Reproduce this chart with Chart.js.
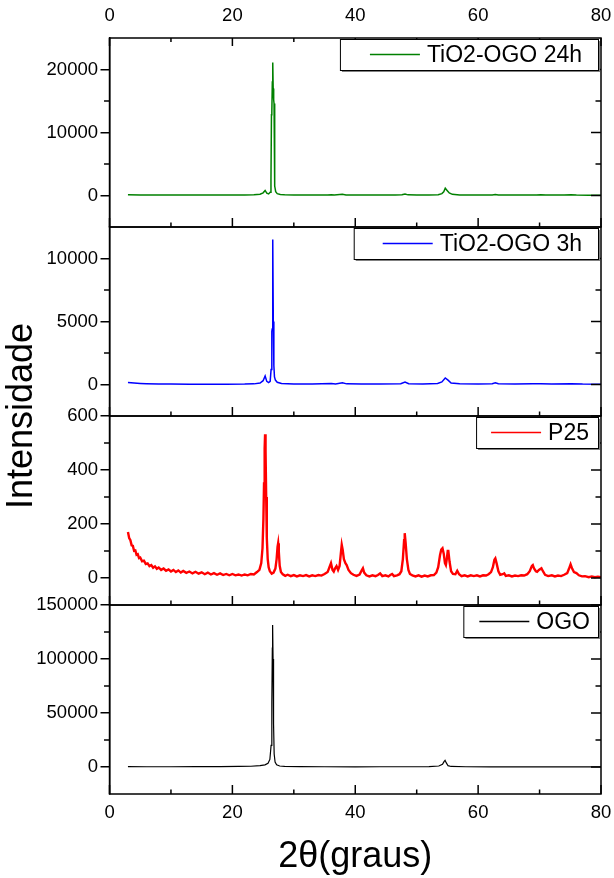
<!DOCTYPE html>
<html>
<head>
<meta charset="utf-8">
<script src="https://cdn.jsdelivr.net/npm/chart.js@4.4.0/dist/chart.umd.min.js"></script>
<style>
  html, body { margin: 0; padding: 0; background: #fff; }
  canvas { display: block; }
</style>
</head>
<body>
<canvas id="xrd" width="614" height="878"></canvas>
<script>
// tick labels of each panel
const greenTicks = [0, 10000, 20000];
const blueTicks = [0, 5000, 10000];
const redTicks = [0, 200, 400, 600];
const ogoTicks = [0, 50000, 100000, 150000];

// TiO2-OGO 24h
const greenX = [3, 5, 8, 11, 14, 17, 20, 22, 23.5, 24.5,
  25.0, 25.33, 25.6, 25.9, 26.15, 26.28, 26.36, 26.42, 26.5, 26.57,
  26.64, 26.72, 26.78, 26.85, 26.92, 27.05, 27.3, 27.8, 28.5, 30,
  33, 35.5, 36.1, 36.6, 37.9, 38.5, 41, 44, 46.5, 47.6,
  48.1, 48.6, 50, 52, 53.5, 54.1, 54.4, 54.65, 54.95, 55.3,
  55.8, 57, 60, 62.3, 62.8, 63.3, 65, 68, 69.5, 70.2,
  71, 74, 75.1, 76, 78, 80];
const greenY = [120, 90, 70, 60, 60, 60, 70, 80, 110, 200,
  420, 800, 380, 250, 500, 2500, 12800, 13200, 18000, 21100,
  17000, 15200, 14600, 6000, 1500, 600, 300, 150, 100, 70,
  60, 70, 130, 70, 180, 90, 60, 60, 70, 110,
  220, 100, 60, 70, 120, 300, 600, 1150, 800, 400,
  180, 90, 70, 80, 160, 90, 60, 60, 80, 130,
  70, 60, 110, 60, 50, 40];

// TiO2-OGO 3h
const blueX = [3, 4, 5, 6, 8, 10, 13, 16, 19, 22,
  23.5, 24.5, 25.0, 25.33, 25.6, 25.9, 26.15, 26.3, 26.42, 26.48,
  26.57, 26.66, 26.75, 26.85, 27.0, 27.3, 28, 30, 33, 36.1,
  36.8, 37.9, 38.6, 41, 44, 47.4, 48.1, 48.7, 51, 53.4,
  54.1, 54.65, 55.1, 55.6, 57, 60, 62.3, 62.8, 63.3, 66,
  68.9, 70.2, 72, 75.1, 77, 80];
const blueY = [150, 110, 80, 60, 40, 30, 25, 25, 25, 30,
  50, 120, 300, 680, 250, 150, 250, 1200, 4200, 4400,
  11500, 5000, 1500, 600, 350, 180, 80, 40, 35, 70,
  40, 130, 50, 35, 40, 60, 200, 60, 40, 80,
  200, 520, 350, 120, 50, 40, 60, 130, 60, 35,
  50, 60, 40, 60, 30, 20];

// P25
const redX = [3.0, 3.2, 3.4, 3.6, 3.8, 4.0, 4.2, 4.4, 4.6, 4.8,
  5.0, 5.3, 5.6, 5.9, 6.2, 6.5, 6.8, 7.1, 7.4, 7.7,
  8.0, 8.4, 8.8, 9.2, 9.6, 10.0, 10.4, 10.8, 11.2, 11.6,
  12.0, 12.5, 13.0, 13.5, 14.0, 14.5, 15.0, 15.5, 16.0, 16.5,
  17.0, 17.5, 18.0, 18.5, 19.0, 19.5, 20.0, 20.5, 21.0, 21.5,
  22.0, 22.5, 23.0, 23.5, 24.0, 24.4, 24.7, 24.9, 25.05, 25.15,
  25.25, 25.32, 25.4, 25.5, 25.6, 25.75, 25.9, 26.1, 26.4, 26.7,
  27.0, 27.2, 27.35, 27.45, 27.55, 27.7, 27.9, 28.2, 28.6, 29.0,
  29.5, 30.0, 30.5, 31.0, 31.5, 32.0, 32.5, 33.0, 33.5, 34.0,
  34.5, 35.0, 35.5, 35.8, 36.05, 36.3, 36.5, 36.7, 36.95, 37.2,
  37.45, 37.65, 37.8, 37.95, 38.15, 38.4, 38.6, 38.9, 39.3, 39.7,
  40.2, 40.7, 41.05, 41.25, 41.45, 41.8, 42.3, 42.8, 43.3, 43.7,
  44.05, 44.4, 44.9, 45.4, 45.7, 46.0, 46.3, 46.8, 47.2, 47.5,
  47.75, 47.95, 48.05, 48.2, 48.4, 48.65, 48.9, 49.3, 49.8, 50.3,
  50.8, 51.3, 51.8, 52.3, 52.8, 53.2, 53.5, 53.8, 54.0, 54.2,
  54.4, 54.6, 54.75, 54.9, 55.05, 55.15, 55.35, 55.6, 55.9, 56.3,
  56.6, 56.9, 57.3, 57.8, 58.3, 58.8, 59.3, 59.8, 60.3, 60.8,
  61.3, 61.7, 62.1, 62.4, 62.65, 62.8, 63.0, 63.3, 63.6, 64.0,
  64.25, 64.5, 65.0, 65.5, 66.0, 66.5, 67.0, 67.5, 68.0, 68.4,
  68.75, 68.9, 69.1, 69.4, 69.6, 69.9, 70.3, 70.55, 70.9, 71.4,
  72.0, 72.5, 73.0, 73.5, 74.0, 74.5, 74.8, 75.05, 75.3, 75.6,
  76.0, 76.4, 76.9, 77.4, 78.0, 78.5, 79.0, 79.5, 80.0];
const redY = [170, 148, 140, 121, 119, 101, 102, 86, 88, 74,
  76, 62, 64, 52, 54, 44, 48, 38, 43, 34,
  39, 30, 35, 27, 32, 24, 30, 22, 28, 20,
  26, 19, 24, 17, 23, 16, 21, 14, 20, 13,
  18, 12, 17, 11, 15, 10, 15, 10, 13, 9,
  13, 10, 15, 13, 22, 30, 55, 110, 220, 350,
  480, 532, 470, 300, 150, 70, 40, 25, 16, 20,
  35, 70, 115, 129, 100, 45, 22, 14, 8, 12,
  7, 11, 6, 10, 7, 11, 6, 10, 7, 11,
  9, 15, 22, 40, 55, 30, 24, 35, 44, 30,
  45, 90, 123, 105, 70, 55, 48, 30, 18, 12,
  8, 13, 28, 36, 20, 10, 6, 10, 7, 11,
  17, 7, 10, 6, 11, 15, 7, 10, 14, 25,
  70, 140, 166, 130, 70, 30, 15, 10, 6, 10,
  5, 9, 6, 10, 11, 20, 40, 85, 105, 110,
  90, 55, 48, 70, 100, 100, 60, 25, 15, 14,
  27, 14, 7, 10, 6, 10, 7, 10, 6, 10,
  9, 14, 22, 40, 68, 73, 55, 25, 12, 14,
  17, 8, 10, 6, 9, 7, 10, 9, 14, 25,
  45, 48, 35, 25, 23, 30, 36, 25, 12, 7,
  10, 6, 9, 7, 12, 18, 35, 51, 35, 22,
  18, 10, 6, 7, 3, 6, 3, 5, 3];

// OGO
const ogoX = [3, 6, 10, 14, 18, 21, 23, 24.5, 25.3, 25.8,
  26.1, 26.3, 26.42, 26.5, 26.55, 26.62, 26.7, 26.8, 26.95, 27.2,
  27.7, 28.5, 31, 35, 40, 44, 48, 52, 53.6, 54.2,
  54.45, 54.62, 54.8, 55.1, 55.6, 58, 62, 66, 70, 75,
  80];
const ogoY = [300, 250, 250, 300, 400, 500, 700, 1200, 2000, 3500,
  7000, 20000, 60000, 110000, 131500, 100000, 40000, 12000, 4500, 2000,
  900, 500, 300, 250, 200, 250, 250, 350, 900, 2500,
  5000, 6200, 4000, 1200, 500, 250, 200, 200, 200, 200,
  150];

const FONT = "'Liberation Sans', Arial, Helvetica, sans-serif";
Chart.defaults.font.family = FONT;
Chart.defaults.color = '#000';

const panels = [
  { id: 'y1', label: 'TiO2-OGO 24h', color: '#008000', x: greenX, y: greenY, ticks: greenTicks, min: -5000, max: 25000, lw: 1.5, padL: 30, padR: 16 },
  { id: 'y2', label: 'TiO2-OGO 3h', color: '#0000ff', x: blueX, y: blueY, ticks: blueTicks, min: -2500, max: 12500, lw: 1.5, padL: 29, padR: 16 },
  { id: 'y3', label: 'P25', color: '#ff0000', x: redX, y: redY, ticks: redTicks, min: -100, max: 600, lw: 2.4, padL: 15, padR: 9 },
  { id: 'y4', label: 'OGO', color: '#000000', x: ogoX, y: ogoY, ticks: ogoTicks, min: -25000, max: 150000, lw: 1.2, padL: 16, padR: 8 }
];

function pts(xs, ys) {
  return xs.map((x, i) => ({ x: x, y: ys[i] }));
}

// label offsets come from the (hidden) tick length so they don't widen the side padding
const scales = {
  x: {
    type: 'linear', position: 'bottom', min: 0, max: 80,
    afterFit: s => { s.height = 84; },
    ticks: { stepSize: 20, padding: 0, font: { size: 18.5 }, maxRotation: 0, callback: v => String(v) },
    grid: { display: false, drawTicks: true, tickLength: 8 },
    border: { display: false },
    title: { display: true, text: '2θ(graus)', font: { size: 36, lineHeight: 1 }, padding: { top: 0, bottom: 3 } }
  },
  x2: {
    type: 'linear', position: 'top', min: 0, max: 80,
    afterFit: s => { s.height = 38; },
    ticks: { stepSize: 20, padding: 0, font: { size: 18.5 }, maxRotation: 0, callback: v => String(v) },
    grid: { display: false, drawTicks: true, tickLength: 11 },
    border: { display: false }
  }
};
panels.forEach((p, i) => {
  scales[p.id] = {
    type: 'linear', position: 'left', stack: 'xrd', stackWeight: 1, weight: 4 - i,
    min: p.min, max: p.max,
    afterBuildTicks: s => { s.ticks = p.ticks.map(v => ({ value: v })); },
    afterFit: s => { s.width = 73.3; },
    ticks: { padding: 2.5, font: { size: 18.5 }, callback: v => String(v) },
    grid: { drawOnChartArea: false, drawTicks: true, tickLength: 9, color: '#000', lineWidth: 1.5 },
    border: { display: true, color: '#000', width: 1.5 }
  };
});

// frames, inward/minor ticks and the boxed legends of every panel
const panelFrames = {
  id: 'panelFrames',
  afterDatasetsDraw(chart) {
    const ctx = chart.ctx;
    const area = chart.chartArea;
    const xs = chart.scales.x;
    const xMajor = xs.ticks.map(t => t.value);
    const xMinor = xMajor.slice(1).map((v, i) => (v + xMajor[i]) / 2);
    function seg(x1, y1, x2, y2) {
      ctx.beginPath(); ctx.moveTo(x1, y1); ctx.lineTo(x2, y2); ctx.stroke();
    }
    ctx.save();
    ctx.strokeStyle = '#000';
    ctx.lineWidth = 1.5;
    panels.forEach(p => {
      const ys = chart.scales[p.id];
      ctx.strokeRect(area.left, ys.top, area.right - area.left, ys.bottom - ys.top);
      xMajor.forEach(v => { const px = xs.getPixelForValue(v); seg(px, ys.bottom, px, ys.bottom - 9); });
      xMinor.forEach(v => { const px = xs.getPixelForValue(v); seg(px, ys.bottom, px, ys.bottom - 4.5); });
      const yMinor = p.ticks.slice(1).map((v, i) => (v + p.ticks[i]) / 2);
      p.ticks.forEach(v => { const py = ys.getPixelForValue(v); seg(area.right, py, area.right - 10, py); });
      yMinor.forEach(v => {
        const py = ys.getPixelForValue(v);
        seg(area.right, py, area.right - 5.5, py);
        seg(area.left, py, area.left - 5.5, py);
      });
    });
    xMajor.forEach(v => { const px = xs.getPixelForValue(v); seg(px, area.top, px, area.top + 8); });
    xMinor.forEach(v => { const px = xs.getPixelForValue(v); seg(px, area.top, px, area.top + 4); });

    ctx.font = '23px ' + FONT;
    ctx.textBaseline = 'middle';
    ctx.textAlign = 'left';
    panels.forEach(p => {
      const ys = chart.scales[p.id];
      const tw = ctx.measureText(p.label).width;
      const right = area.right - 3;
      const top = ys.top + 1;
      const h = 31;
      const textLeft = right - p.padR - tw;
      const lineEnd = textLeft - 7;
      const lineStart = lineEnd - 50;
      const left = lineStart - p.padL;
      ctx.fillStyle = '#808080';
      ctx.fillRect(left + 2, top + 2, right - left, h);
      ctx.fillStyle = '#fff';
      ctx.fillRect(left, top, right - left, h);
      ctx.lineWidth = 1;
      ctx.strokeStyle = '#000';
      ctx.strokeRect(left + 0.5, top + 0.5, right - left, h);
      ctx.strokeStyle = p.color;
      ctx.lineWidth = 1.5;
      seg(lineStart, top + h / 2, lineEnd, top + h / 2);
      ctx.fillStyle = '#000';
      ctx.fillText(p.label, textLeft, top + h / 2 + 1);
    });
    ctx.restore();
  }
};

new Chart(document.getElementById('xrd').getContext('2d'), {
  type: 'line',
  data: {
    datasets: panels.map(p => ({
      label: p.label,
      data: pts(p.x, p.y),
      xAxisID: 'x',
      yAxisID: p.id,
      borderColor: p.color,
      borderWidth: p.lw,
      pointRadius: 0,
      tension: 0,
      fill: false
    }))
  },
  options: {
    responsive: false,
    animation: false,
    layout: { padding: { left: 0, right: 13, top: 0, bottom: 0 } },
    scales: scales,
    plugins: {
      legend: { display: false },
      tooltip: { enabled: false },
      title: {
        display: true, text: 'Intensidade', position: 'left', fullSize: false,
        font: { size: 36, weight: 'normal', lineHeight: 0.52 },
        padding: { top: 12.6, bottom: 4.9 }, color: '#000'
      }
    }
  },
  plugins: [panelFrames]
});
</script>
</body>
</html>
